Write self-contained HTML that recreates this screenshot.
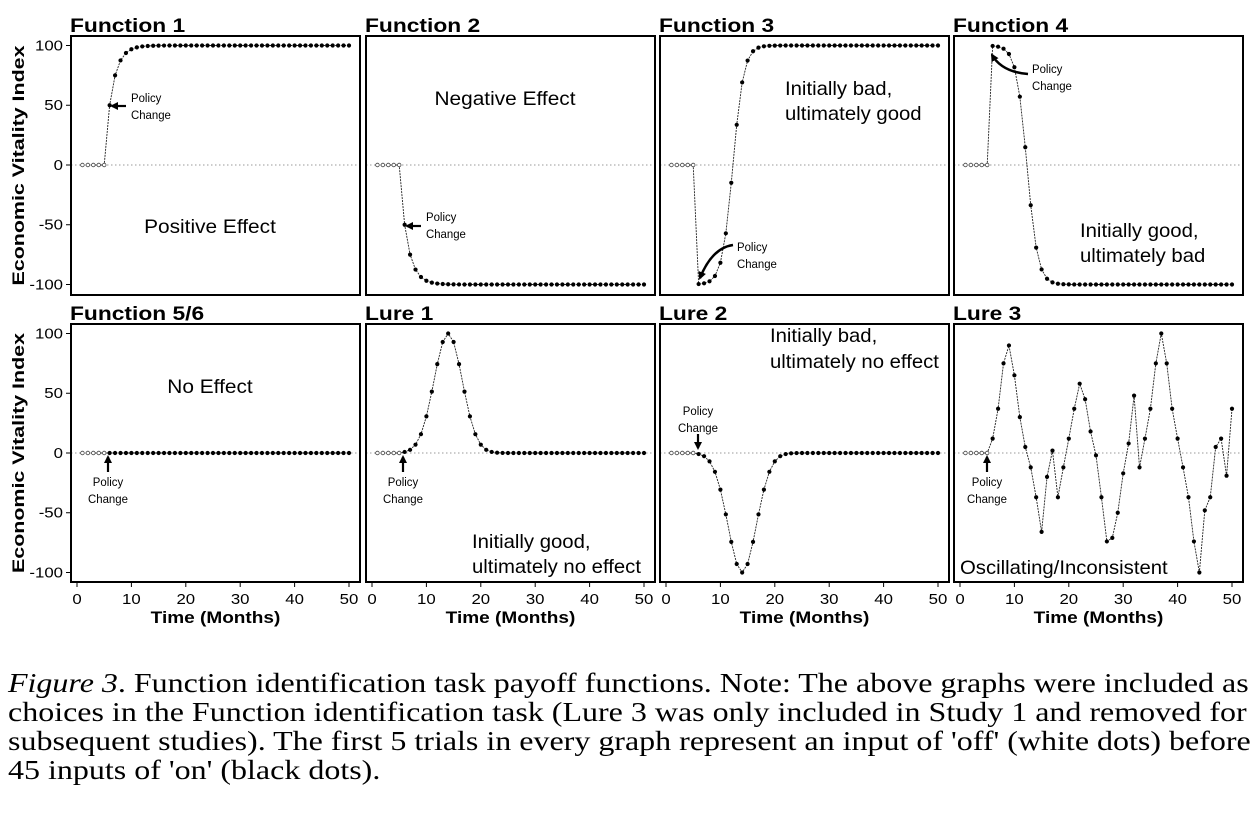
<!DOCTYPE html>
<html><head><meta charset="utf-8"><style>
body{margin:0;background:#fff;width:1255px;height:814px;overflow:hidden}
.cap{position:absolute;left:8px;top:669px;font-family:"Liberation Serif",serif;font-size:27px;line-height:29px;color:#000;white-space:nowrap;transform:scaleX(1.185);transform-origin:0 0}
</style></head><body>
<svg id="s" width="1255" height="650" style="position:absolute;left:0;top:0" font-family="Liberation Sans, sans-serif"></svg>
<div class="cap"><i>Figure 3</i>. Function identification task payoff functions. Note: The above graphs were included as<br>choices in the Function identification task (Lure 3 was only included in Study 1 and removed for<br>subsequent studies). The first 5 trials in every graph represent an input of 'off' (white dots) before<br>45 inputs of 'on' (black dots).</div>
<script>
const S=document.getElementById('s');let h='';
const PX=[71,366,660,954];const W=289;
const rows=[{top:36,bot:295,y0:165},{top:324,bot:582,y0:453}];
const lure3=[12,37,75,90,65,30,5,-12,-37,-66,-20,2,-37,-12,12,37,58,45,18,-2,-37,-74,-71,-50,-17,8,48,-12,12,37,75,100,75,37,12,-12,-37,-74,-100,-48,-37,5,12,-19,37];
const fns=[
t=>100-50*Math.pow(0.5,t-6),
t=>-100+50*Math.pow(0.5,t-6),
t=>-100+200/(1+Math.exp(-(t-12.3)*1.0)),
t=>100-200/(1+Math.exp(-(t-12.3)*1.0)),
t=>0,
t=>100*Math.exp(-Math.pow(t-14,2)/(2*2.6*2.6)),
t=>-100*Math.exp(-Math.pow(t-14,2)/(2*2.6*2.6)),
t=>lure3[t-6]];
const titles=['Function 1','Function 2','Function 3','Function 4','Function 5/6','Lure 1','Lure 2','Lure 3'];
function tx(x,y,s,sz,a,sx,b){return `<text x="${x}" y="${y}" font-size="${sz}" ${a?'text-anchor="'+a+'"':''} ${b?'font-weight="bold"':''} transform="translate(${x},0) scale(${sx||1},1) translate(${-x},0)">${s}</text>`;}
for(let i=0;i<8;i++){
 const r=rows[i>>2],c=i%4,x0=PX[c],X=t=>x0+6+t*5.44,Y=v=>r.y0-v*1.195;
 h+=tx(x0-1,r.top-4,titles[i],19,'',1.2,1);
 h+=`<line x1="${x0}" x2="${x0+W}" y1="${r.y0}" y2="${r.y0}" stroke="#999" stroke-dasharray="1.5,2.5"/>`;
 let pts=[];for(let t=1;t<=50;t++)pts.push([X(t),Y(t<=5?0:fns[i](t))]);
 h+=`<polyline points="${pts.map(p=>p.join(',')).join(' ')}" fill="none" stroke="#222" stroke-width="0.9" stroke-dasharray="2,1"/>`;
 pts.forEach((p,k)=>{h+=k<5?`<circle cx="${p[0]}" cy="${p[1]}" r="1.8" fill="#fff" stroke="#444" stroke-width="0.8"/>`:`<circle cx="${p[0]}" cy="${p[1]}" r="2.1" fill="#000"/>`});
 h+=`<rect x="${x0}" y="${r.top}" width="${W}" height="${r.bot-r.top}" fill="none" stroke="#000" stroke-width="2"/>`;
 if(c==0){[100,50,0,-50,-100].forEach(v=>{h+=`<line x1="${x0-5}" x2="${x0}" y1="${Y(v)}" y2="${Y(v)}" stroke="#000"/>`+tx(x0-8,Y(v)+5,v,15,'end',1.12)});
  h+=`<text transform="translate(24,${(r.top+r.bot)/2}) rotate(-90)" font-size="17" font-weight="bold" text-anchor="middle" textLength="240" lengthAdjust="spacingAndGlyphs">Economic Vitality Index</text>`;}
 if(i>=4){[0,10,20,30,40,50].forEach(v=>{h+=`<line x1="${X(v)}" x2="${X(v)}" y1="${r.bot}" y2="${r.bot+5}" stroke="#000"/>`+tx(X(v),r.bot+22,v,15,'middle',1.12)});
  h+=tx(x0+W/2,623,'Time (Months)',17,'middle',1.12,1);}
}
const PC=(x,y,a)=>tx(x,y,'Policy',12,a?'middle':'',0.95)+tx(x,y+17,'Change',12,a?'middle':'',0.95);
h+=`<defs><marker id="m" markerWidth="8" markerHeight="8" refX="6" refY="4" orient="auto" markerUnits="userSpaceOnUse"><path d="M0,0 L8,4 L0,8Z"/></marker></defs>`;
const arr=(x1,y1,x2,y2)=>`<line x1="${x1}" y1="${y1}" x2="${x2}" y2="${y2}" stroke="#000" stroke-width="2.2" marker-end="url(#m)"/>`;
h+=PC(131,102)+arr(126,106,112,106);
h+=PC(426,221)+arr(421,226,407,226);
h+=PC(737,251)+`<path d="M733,245 Q712,248 700,278" fill="none" stroke="#000" stroke-width="2.5" marker-end="url(#m)"/>`;
h+=PC(1032,73)+`<path d="M1028,74 Q1002,72 992,55" fill="none" stroke="#000" stroke-width="2.5" marker-end="url(#m)"/>`;
h+=PC(108,486,1)+arr(108,472,108,457);
h+=PC(403,486,1)+arr(403,472,403,457);
h+=PC(698,415,1)+arr(698,434,698,448);
h+=PC(987,486,1)+arr(987,472,987,457);
const sx=1.07;
h+=tx(210,233,'Positive Effect',19.5,'middle',sx)+tx(505,105,'Negative Effect',19.5,'middle',sx);
h+=tx(785,95,'Initially bad,',19,'',sx)+tx(785,120,'ultimately good',19,'',sx);
h+=tx(1080,237,'Initially good,',19,'',sx)+tx(1080,262,'ultimately bad',19,'',sx);
h+=tx(210,393,'No Effect',19.5,'middle',sx);
h+=tx(472,548,'Initially good,',19,'',sx)+tx(472,573,'ultimately no effect',19,'',sx);
h+=tx(770,342,'Initially bad,',19,'',sx)+tx(770,368,'ultimately no effect',19,'',sx);
h+=tx(960,574,'Oscillating/Inconsistent',19,'',sx);
S.innerHTML=h;
</script>
</body></html>
